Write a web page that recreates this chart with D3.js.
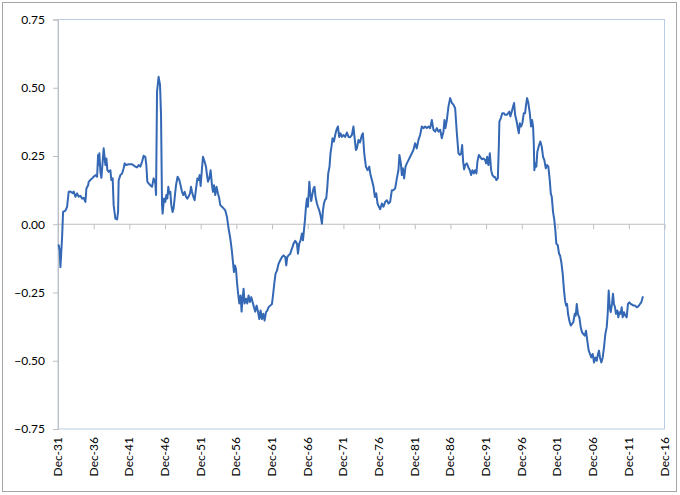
<!DOCTYPE html>
<html><head><meta charset="utf-8">
<script src="https://cdn.jsdelivr.net/npm/d3@7"></script>
<style>
html,body{margin:0;padding:0;background:#fff;}
svg{display:block;font-family:Lato,"Open Sans",sans-serif;}
</style></head>
<body><svg id="c" width="680" height="495"></svg>
<script>
const years = [
1932.02,1932.16,1932.26,1932.49,1932.63,1932.96,1933.19,1933.42,1933.66,1933.98,
1934.12,1934.36,1934.60,1934.82,1935.06,1935.30,1935.52,1935.76,1935.90,1936.14,
1936.22,1936.46,1936.70,1936.92,1937.16,1937.40,1937.54,1937.62,1937.72,1937.86,
1938.00,1938.18,1938.32,1938.56,1938.70,1938.84,1939.02,1939.26,1939.40,1939.58,
1939.72,1939.96,1940.20,1940.34,1940.42,1940.66,1940.90,1941.12,1941.26,1941.46,
1941.82,1942.30,1942.76,1943.00,1943.22,1943.46,1943.70,1943.92,1944.16,1944.30,
1944.44,1944.62,1944.86,1945.10,1945.32,1945.56,1945.66,1945.80,1946.02,1946.22,
1946.36,1946.50,1946.58,1946.78,1946.96,1947.10,1947.24,1947.38,1947.52,1947.66,
1947.80,1947.98,1948.12,1948.26,1948.46,1948.68,1948.92,1949.10,1949.30,1949.48,
1949.66,1949.86,1950.04,1950.22,1950.42,1950.56,1950.70,1950.88,1951.07,1951.27,
1951.45,1951.63,1951.77,1951.91,1952.10,1952.24,1952.47,1952.66,1952.80,1952.94,
1953.12,1953.31,1953.50,1953.64,1953.78,1953.96,1954.14,1954.34,1954.52,1954.66,
1954.90,1955.13,1955.36,1955.60,1955.83,1956.07,1956.30,1956.44,1956.58,1956.72,
1956.86,1957.00,1957.14,1957.33,1957.51,1957.65,1957.79,1957.93,1958.07,1958.27,
1958.45,1958.63,1958.82,1959.01,1959.19,1959.39,1959.57,1959.75,1959.95,1960.13,
1960.31,1960.50,1960.69,1960.87,1961.07,1961.25,1961.43,1961.67,1961.91,1962.05,
1962.23,1962.41,1962.61,1962.83,1963.07,1963.31,1963.53,1963.77,1963.91,1964.05,
1964.23,1964.47,1964.61,1964.79,1964.93,1965.17,1965.41,1965.55,1965.73,1965.91,
1966.11,1966.25,1966.39,1966.53,1966.67,1966.81,1966.95,1967.14,1967.27,1967.41,
1967.55,1967.73,1967.87,1968.01,1968.21,1968.35,1968.53,1968.71,1968.91,1969.05,
1969.19,1969.33,1969.51,1969.65,1969.79,1969.97,1970.11,1970.25,1970.39,1970.59,
1970.77,1970.95,1971.15,1971.33,1971.51,1971.71,1971.94,1972.17,1972.41,1972.64,
1972.87,1973.11,1973.33,1973.47,1973.67,1973.81,1974.03,1974.25,1974.51,1974.65,
1974.84,1975.07,1975.30,1975.54,1975.68,1975.91,1976.14,1976.33,1976.52,1976.70,
1976.89,1977.08,1977.31,1977.54,1977.77,1978.01,1978.24,1978.47,1978.71,1978.93,
1979.17,1979.41,1979.63,1979.77,1979.97,1980.11,1980.25,1980.43,1980.62,1980.81,
1981.04,1981.27,1981.51,1981.73,1981.97,1982.20,1982.44,1982.67,1982.91,1983.14,
1983.38,1983.61,1983.84,1984.08,1984.31,1984.54,1984.78,1985.01,1985.24,1985.48,
1985.71,1985.94,1986.08,1986.22,1986.42,1986.64,1986.88,1987.12,1987.34,1987.58,
1987.82,1988.04,1988.24,1988.42,1988.56,1988.70,1988.84,1988.98,1989.22,1989.44,
1989.64,1989.82,1990.00,1990.20,1990.38,1990.56,1990.70,1990.90,1991.08,1991.32,
1991.54,1991.78,1991.92,1992.06,1992.24,1992.44,1992.62,1992.80,1993.00,1993.18,
1993.36,1993.56,1993.70,1993.78,1993.98,1994.20,1994.40,1994.58,1994.82,1995.04,
1995.18,1995.32,1995.52,1995.70,1995.84,1995.98,1996.16,1996.36,1996.50,1996.64,
1996.82,1997.00,1997.20,1997.38,1997.52,1997.66,1997.84,1998.04,1998.22,1998.36,
1998.50,1998.60,1998.68,1998.82,1998.96,1999.10,1999.34,1999.52,1999.72,1999.90,
2000.08,2000.28,2000.46,2000.64,2000.84,2000.98,2001.12,2001.30,2001.48,2001.62,
2001.76,2001.96,2002.14,2002.28,2002.46,2002.65,2002.84,2002.98,2003.12,2003.26,
2003.40,2003.58,2003.78,2003.96,2004.14,2004.34,2004.48,2004.62,2004.80,2004.99,
2005.18,2005.36,2005.55,2005.74,2005.92,2006.10,2006.30,2006.48,2006.66,2006.86,
2007.04,2007.22,2007.42,2007.60,2007.74,2007.88,2008.07,2008.26,2008.44,2008.63,
2008.82,2008.96,2009.10,2009.24,2009.38,2009.56,2009.70,2009.84,2009.98,2010.12,
2010.31,2010.45,2010.59,2010.78,2010.92,2011.06,2011.24,2011.43,2011.62,2011.80,
2011.99,2012.18,2012.36,2012.55,2012.79,2013.03,2013.25,2013.49,2013.67,2013.87
];
const values = [
-0.077,-0.096,-0.157,-0.050,0.045,0.050,0.064,0.119,0.120,0.114,
0.120,0.101,0.113,0.101,0.104,0.094,0.097,0.082,0.131,0.143,
0.155,0.162,0.168,0.174,0.180,0.174,0.254,0.217,0.260,0.192,
0.170,0.229,0.278,0.217,0.241,0.198,0.192,0.198,0.162,0.168,
0.070,0.021,0.018,0.045,0.160,0.180,0.186,0.205,0.223,0.217,
0.220,0.220,0.211,0.208,0.217,0.211,0.229,0.251,0.247,0.217,
0.156,0.150,0.143,0.137,0.168,0.150,0.107,0.486,0.540,0.510,
0.400,0.070,0.039,0.094,0.082,0.107,0.094,0.137,0.113,0.119,
0.070,0.045,0.058,0.094,0.143,0.174,0.162,0.143,0.119,0.107,
0.119,0.101,0.094,0.101,0.113,0.137,0.119,0.101,0.088,0.131,
0.168,0.162,0.180,0.140,0.205,0.247,0.229,0.211,0.180,0.156,
0.168,0.198,0.143,0.119,0.143,0.107,0.137,0.113,0.094,0.070,
0.064,0.058,0.051,0.027,-0.016,-0.053,-0.100,-0.139,-0.175,-0.151,
-0.163,-0.210,-0.249,-0.290,-0.261,-0.320,-0.273,-0.236,-0.290,-0.273,
-0.290,-0.261,-0.285,-0.267,-0.285,-0.304,-0.320,-0.298,-0.320,-0.347,
-0.316,-0.347,-0.328,-0.353,-0.322,-0.316,-0.304,-0.298,-0.292,-0.261,
-0.218,-0.181,-0.170,-0.145,-0.132,-0.120,-0.114,-0.120,-0.151,-0.120,
-0.114,-0.108,-0.096,-0.083,-0.071,-0.061,-0.071,-0.108,-0.071,-0.059,
-0.034,-0.059,-0.022,0.015,0.064,0.094,0.064,0.156,0.113,0.085,
0.107,0.131,0.137,0.101,0.076,0.064,0.051,0.033,0.002,0.050,
0.076,0.088,0.094,0.131,0.186,0.211,0.260,0.284,0.315,0.303,
0.327,0.346,0.358,0.320,0.333,0.320,0.327,0.320,0.336,0.320,
0.319,0.327,0.358,0.320,0.272,0.278,0.309,0.300,0.327,0.333,
0.260,0.211,0.198,0.211,0.186,0.162,0.137,0.100,0.113,0.076,
0.064,0.055,0.076,0.064,0.082,0.088,0.076,0.082,0.125,0.125,
0.131,0.168,0.198,0.254,0.223,0.180,0.205,0.168,0.211,0.223,
0.235,0.247,0.260,0.272,0.297,0.278,0.309,0.327,0.358,0.352,
0.358,0.352,0.358,0.352,0.382,0.346,0.339,0.352,0.339,0.346,
0.315,0.339,0.382,0.352,0.382,0.431,0.462,0.444,0.438,0.425,
0.333,0.260,0.254,0.260,0.290,0.229,0.201,0.217,0.223,0.208,
0.198,0.180,0.198,0.186,0.198,0.186,0.229,0.254,0.247,0.238,
0.241,0.235,0.223,0.247,0.217,0.260,0.198,0.180,0.174,0.172,
0.162,0.168,0.284,0.376,0.389,0.407,0.407,0.401,0.401,0.407,
0.413,0.395,0.413,0.431,0.444,0.401,0.382,0.352,0.333,0.370,
0.358,0.370,0.407,0.407,0.438,0.462,0.444,0.407,0.358,0.382,
0.358,0.297,0.198,0.223,0.211,0.266,0.290,0.303,0.284,0.247,
0.235,0.205,0.217,0.211,0.162,0.113,0.101,0.045,0.015,-0.022,
-0.071,-0.077,-0.108,-0.114,-0.139,-0.181,-0.243,-0.279,-0.298,-0.292,
-0.328,-0.353,-0.371,-0.365,-0.359,-0.328,-0.335,-0.292,-0.330,-0.341,
-0.377,-0.396,-0.402,-0.408,-0.390,-0.426,-0.463,-0.475,-0.488,-0.475,
-0.506,-0.488,-0.500,-0.475,-0.463,-0.488,-0.506,-0.488,-0.451,-0.402,
-0.377,-0.328,-0.243,-0.304,-0.322,-0.292,-0.255,-0.292,-0.304,-0.328,
-0.316,-0.341,-0.322,-0.328,-0.304,-0.341,-0.322,-0.335,-0.341,-0.292,
-0.286,-0.292,-0.294,-0.298,-0.298,-0.304,-0.301,-0.292,-0.286,-0.267
];
const xTickLabels = ["Dec-31","Dec-36","Dec-41","Dec-46","Dec-51","Dec-56","Dec-61","Dec-66","Dec-71","Dec-76","Dec-81","Dec-86","Dec-91","Dec-96","Dec-01","Dec-06","Dec-11","Dec-16"];
const xStartYear = 1931.92;
const xTickStep = 5;
const yTickValues = [-0.75,-0.5,-0.25,0,0.25,0.5,0.75];

const svg = d3.select("#c");
const L = 58, R = 664.5, T = 19.5, B = 429;
const x = d3.scaleLinear().domain([xStartYear, xStartYear + xTickStep*(xTickLabels.length-1)]).range([L, R]);
const y = d3.scaleLinear().domain([-0.75, 0.75]).range([B, T]);

// outer border
svg.append("rect").attr("x",2.5).attr("y",2.5).attr("width",674).attr("height",489)
  .attr("fill","#fff").attr("stroke","#a6a6a6").attr("stroke-width",1);

// plot area border
svg.append("rect").attr("x",L).attr("y",T).attr("width",R-L).attr("height",B-T)
  .attr("fill","none").attr("stroke","#b9cde5").attr("stroke-width",1);

// y axis
const yAxis = d3.axisLeft(y).tickValues(yTickValues).tickSize(5).tickPadding(8)
  .tickFormat(d3.format(".2f"));
const gy = svg.append("g").attr("transform",`translate(${L},0)`).call(yAxis);
gy.select(".domain").attr("stroke","#bfbfbf");
gy.selectAll(".tick line").attr("stroke","#bfbfbf");
gy.selectAll(".tick text").attr("fill","#000").style("font-size","12px").style("font-family","Lato, 'Open Sans', sans-serif");

// x axis on zero line
const tickVals = xTickLabels.map((d,i)=>xStartYear + i*xTickStep);
const xAxis = d3.axisBottom(x).tickValues(tickVals).tickSize(5).tickFormat("");
const gx = svg.append("g").attr("transform",`translate(0,${y(0)})`).call(xAxis);
gx.select(".domain").attr("stroke","#bfbfbf").attr("d",`M${L},0H${R}`);
gx.selectAll(".tick line").attr("stroke","#bfbfbf");

// x labels (rotated) at bottom
svg.append("g").selectAll("text").data(xTickLabels).join("text")
  .attr("transform",(d,i)=>`translate(${x(tickVals[i])+4},${B+8}) rotate(-90)`)
  .attr("text-anchor","end")
  .style("font-size","12px").attr("fill","#000")
  .text(d=>d);

// line
const data = years.map((yr,i)=>({yr, v: values[i]}));
svg.append("path").datum(data)
  .attr("fill","none").attr("stroke","#3468b4").attr("stroke-width",2)
  .attr("stroke-linejoin","round").attr("stroke-linecap","round")
  .attr("d", d3.line().x(d=>x(d.yr)).y(d=>y(d.v)));
</script></body></html>
